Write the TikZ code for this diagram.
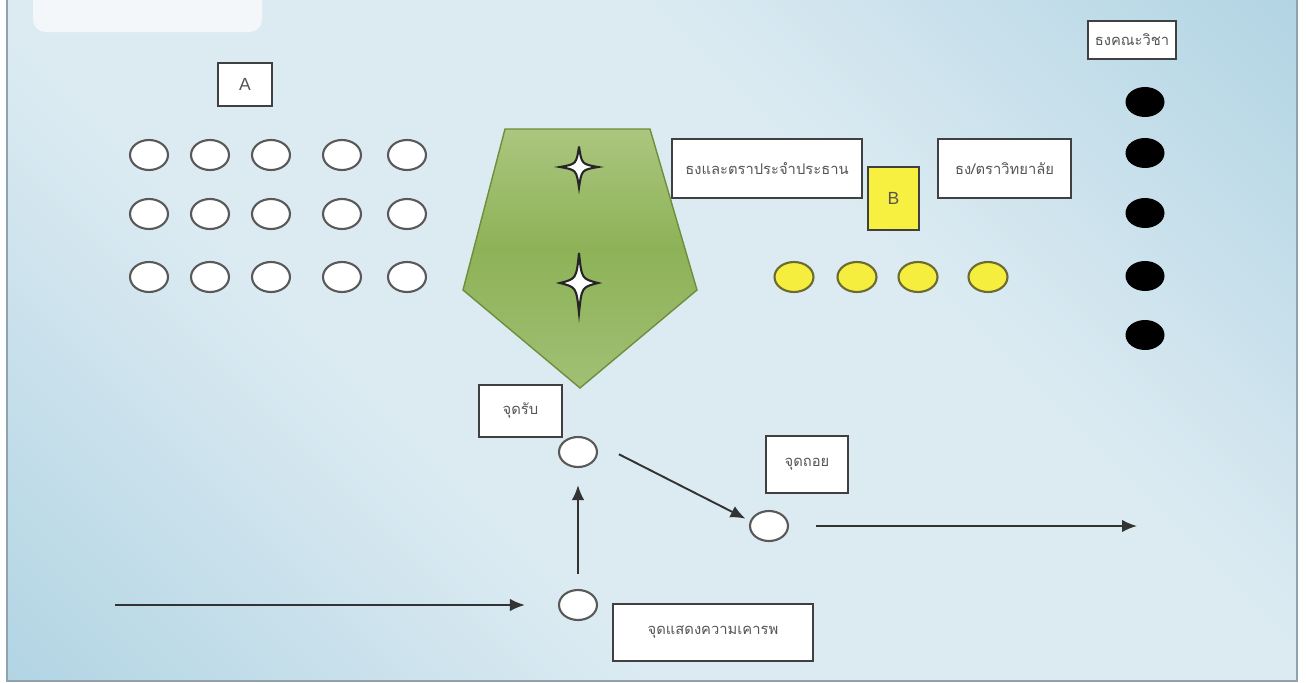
\documentclass[tikz,border=0pt]{standalone}
\usepackage{fontspec}
\setmainfont{Liberation Sans}
\newfontfamily\thaifont[Script=Thai]{Loma}
\usetikzlibrary{shapes.geometric,arrows.meta}

\definecolor{bgblue}{HTML}{98C6DB}
\definecolor{bglight}{HTML}{DCEBF2}
\definecolor{frameedge}{HTML}{8FA3AE}
\definecolor{boxedge}{HTML}{404040}
\definecolor{textgray}{HTML}{555555}
\definecolor{flagtop}{HTML}{CCDCAA}
\definecolor{flagmid}{HTML}{8DB257}
\definecolor{flaglow}{HTML}{A3C178}
\definecolor{flagbot}{HTML}{B3CA8A}
\definecolor{flagedge}{HTML}{6E8E3C}
\definecolor{dotyellow}{HTML}{F6EE3E}
\definecolor{dotedge}{HTML}{6A6A32}
\definecolor{tagyellow}{HTML}{F8F040}
\definecolor{tabwhite}{HTML}{F4F7FA}

\pgfdeclarehorizontalshading{bgshade}{100bp}{color(0bp)=(bgblue); color(38bp)=(bglight); color(62bp)=(bglight); color(100bp)=(bgblue)}
\pgfdeclareverticalshading{flagshade}{100bp}{color(0bp)=(flagbot); color(22bp)=(flaglow); color(52bp)=(flagmid); color(100bp)=(flagtop)}

\tikzset{
  box/.style={draw=boxedge, fill=white, line width=1.1pt, inner sep=0pt, text=textgray,
    font=\thaifont\fontsize{8.4}{10}\selectfont},
  tag/.style={box, fill=tagyellow, font=\fontsize{10}{12}\selectfont},
  wdot/.style={ellipse, draw=black!65, fill=white, line width=1.2pt, inner sep=0pt,
    minimum width=0.76cm, minimum height=0.6cm},
  ydot/.style={wdot, draw=dotedge, fill=dotyellow, minimum width=0.78cm},
  kdot/.style={ellipse, fill=black, inner sep=0pt, minimum width=0.78cm, minimum height=0.6cm},
  flow/.style={draw=black!80, line width=1.1pt, -{Latex[length=3mm,width=2.5mm]}},
  sparkle/.pic={
    \draw[fill=white, draw=black!85, line width=1.2pt] (0,-1) .. controls (0.14,-0.14) .. (1,0)
      .. controls (0.14,0.14) .. (0,1) .. controls (-0.14,0.14) .. (-1,0)
      .. controls (-0.14,-0.14) .. cycle;
  }
}

\begin{document}
\begin{tikzpicture}[x=0.02cm,y=-0.02cm]

 \useasboundingbox (0,0) rectangle (1306,683);
 \fill[white] (0,0) rectangle (1306,683);
 \shade[shading=bgshade, shading angle=45] (7,0) rectangle (1297,681);
 \draw[frameedge, line width=0.8pt] (7,0) -- (7,681) -- (1297,681) -- (1297,0);
 \fill[tabwhite, rounded corners=0.25cm] (33,-20) rectangle (262,32);

 \shade[shading=flagshade, draw=flagedge, line width=0.8pt]
   (505,129) -- (650,129) -- (697,290) -- (580,388) -- (463,290) -- cycle;
 \pic[xscale=19, yscale=20.5] at (579,167) {sparkle};
 \pic[xscale=19, yscale=30] at (579,283) {sparkle};

 \node[box, minimum width=1.08cm, minimum height=0.86cm, font=\fontsize{10}{12}\selectfont] (bA) at (245,84.5) {A};
  \node[box, minimum width=3.8cm, minimum height=1.18cm] (bPres) at (767,168.5) {ธงและตราประจำประธาน};
   \node[tag, minimum width=1.02cm, minimum height=1.26cm] (bB) at (893.5,198.5) {B};
    \node[box, minimum width=2.66cm, minimum height=1.18cm] (bColl) at (1004.5,168.5) {ธง/ตราวิทยาลัย};
     \node[box, minimum width=1.76cm, minimum height=0.76cm] (bFac) at (1132,40) {ธงคณะวิชา};
      \node[box, minimum width=1.66cm, minimum height=1.04cm] (bRecv) at (520.5,411) {จุดรับ};
       \node[box, minimum width=1.64cm, minimum height=1.14cm] (bBack) at (807,464.5) {จุดถอย};
        \node[box, minimum width=4.0cm, minimum height=1.14cm] (bSalute) at (713,632.5) {จุดแสดงความเคารพ};

 \foreach \x [count=\i] in {149,210,271,342,407}
   \foreach \y [count=\j] in {155,214,277}
     \node[wdot] (w\j\i) at (\x,\y) {};
 \foreach \x [count=\i] in {794,857,918,988}
   \node[ydot] (y\i) at (\x,277) {};
 \foreach \y [count=\i] in {102,153,213,276,335}
   \node[kdot] (k\i) at (1145,\y) {};

 \node[wdot] (pRecv) at (578,452) {};
  \node[wdot] (pBack) at (769,526) {};
   \node[wdot] (pSalute) at (578,605) {};
 \coordinate (inL) at (115,605);
 \coordinate (outR) at (1137,526);

 \draw[flow, shorten >=0.66cm] (inL) -- (pSalute.west);
 \draw[flow, shorten <=0.3cm, shorten >=0.34cm] (pSalute.north) -- (pRecv.south);
 \draw[flow, shorten <=0.6cm, shorten >=0.1cm] (pRecv.north east) -- (pBack.165);
 \draw[flow, shorten <=0.54cm] (pBack.east) -- (outR);

\end{tikzpicture}
\end{document}
